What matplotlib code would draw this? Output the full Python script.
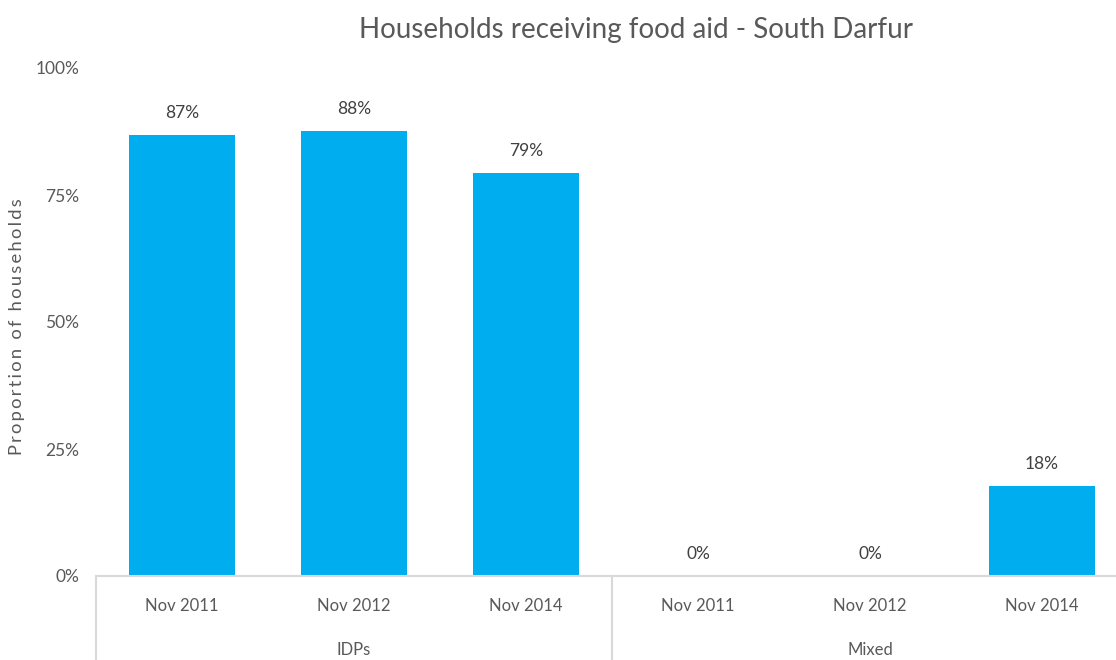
import matplotlib
matplotlib.use("Agg")
import matplotlib.pyplot as plt

categories = ["Nov 2011", "Nov 2012", "Nov 2014", "Nov 2011", "Nov 2012", "Nov 2014"]
groups = ["IDPs", "Mixed"]
values = [86.8, 87.6, 79.3, 0.0, 0.0, 17.7]
yticks = [0, 25, 50, 75, 100]

plt.rcParams['font.family'] = ['Lato', 'DejaVu Sans']
txt = '#595959'

fig = plt.figure(figsize=(11.16, 6.6), dpi=100)
ax = fig.add_axes([96/1116, 1-576/660, (1128-96)/1116, (576-68)/660])

x = list(range(len(values)))
ax.bar(x, values, width=0.62, color='#00AEEF')
ax.set_xlim(-0.5, len(values) - 0.5)
ax.set_ylim(0, 100)

for xi, v in zip(x, values):
    ax.annotate(f"{round(v):.0f}%", (xi, v), xytext=(0, 10), textcoords='offset points',
                ha='center', va='bottom', fontsize=12.5, color='#404040')

ax.set_yticks(yticks)
ax.set_yticklabels([f"{t}%" for t in yticks], fontsize=12.5, color=txt)
ax.tick_params(axis='y', length=0, pad=12)
ax.set_xticks([])
for s in ['top', 'right', 'left']:
    ax.spines[s].set_visible(False)
ax.spines['bottom'].set_color('#d9d9d9')
ax.spines['bottom'].set_linewidth(1.5)

trans = ax.get_xaxis_transform()
for xi, c in zip(x, categories):
    ax.text(xi, -0.06, c, transform=trans, ha='center', va='center', fontsize=12, color=txt)
for gi, g in enumerate(groups):
    ax.text(gi * 3 + 1, -0.146, g, transform=trans, ha='center', va='center', fontsize=12, color=txt, clip_on=False)
for b in [-0.5, 2.5, 5.5]:
    ax.plot([b, b], [0, -0.2], transform=trans, color='#d9d9d9', lw=1.5, clip_on=False)

ylabel = "Proportion of households"
spaced = "\u2009 \u2009".join("\u2009".join(w) for w in ylabel.split(" "))
fig.text(17/1116, 1-327/660, spaced, rotation=90, ha='center', va='center',
         fontsize=13.2, color=txt)

fig.text(636/1116, 1-30/660, "Households receiving food aid - South Darfur", ha='center', va='center',
         fontsize=20, color=txt)

fig.savefig("out.png", dpi=100)
